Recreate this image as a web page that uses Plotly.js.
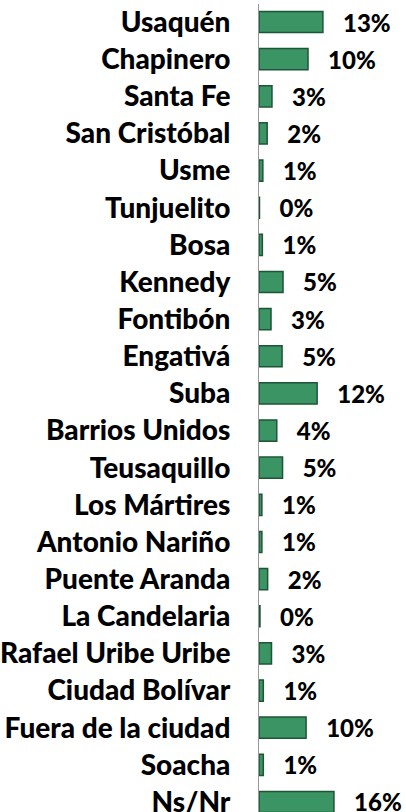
<!DOCTYPE html>
<html>
<head>
<meta charset="utf-8">
<script src="https://cdn.plot.ly/plotly-3.0.1.min.js"></script>
<style>
html,body{margin:0;padding:0;background:#fff;}
#chart{width:406px;height:812px;}
</style>
</head>
<body>
<div id="chart"></div>
<script>
var categories = ["Usaquén","Chapinero","Santa Fe","San Cristóbal","Usme","Tunjuelito","Bosa","Kennedy","Fontibón","Engativá","Suba","Barrios Unidos","Teusaquillo","Los Mártires","Antonio Nariño","Puente Aranda","La Candelaria","Rafael Uribe Uribe","Ciudad Bolívar","Fuera de la ciudad","Soacha","Ns/Nr"];
var values = [13.3,10.2,2.7,1.7,0.8,0.1,0.7,5.0,2.5,4.8,12.1,3.7,4.9,0.6,0.6,1.8,0.2,2.6,0.9,9.8,0.9,15.6];
var pctLabels = ["13%","10%","3%","2%","1%","0%","1%","5%","3%","5%","12%","4%","5%","1%","1%","2%","0%","3%","1%","10%","1%","16%"];

var trace = {
  type: "bar",
  orientation: "h",
  y: categories,
  x: values,
  text: pctLabels,
  texttemplate: "\u00a0\u00a0\u00a0%{text}",
  textposition: "outside",
  constraintext: "none",
  cliponaxis: false,
  textfont: {family: "Lato, 'Open Sans', sans-serif", size: 24, color: "#000", weight: 900},
  marker: {color: "#3a9464", line: {color: "#1d5536", width: 1.5}},
  width: 0.57,
  hoverinfo: "skip"
};

var layout = {
  width: 406,
  height: 812,
  margin: {l: 259, r: 0, t: 4, b: 0},
  paper_bgcolor: "#fff",
  plot_bgcolor: "#fff",
  showlegend: false,
  bargap: 0.43,
  xaxis: {range: [0, 30.6], showgrid: false, zeroline: false, showticklabels: false, showline: false, fixedrange: true},
  yaxis: {
    type: "category",
    categoryorder: "array",
    categoryarray: categories,
    range: [21.27, -0.485],
    showgrid: false,
    zeroline: false,
    showline: true,
    linecolor: "#999",
    linewidth: 1,
    ticks: "",
    ticklabelstandoff: 22,
    tickfont: {family: "Lato, 'Open Sans', sans-serif", size: 28, color: "#000", weight: 900},
    fixedrange: true
  }
};

Plotly.newPlot("chart", [trace], layout, {displayModeBar: false, staticPlot: true});
</script>
</body>
</html>
